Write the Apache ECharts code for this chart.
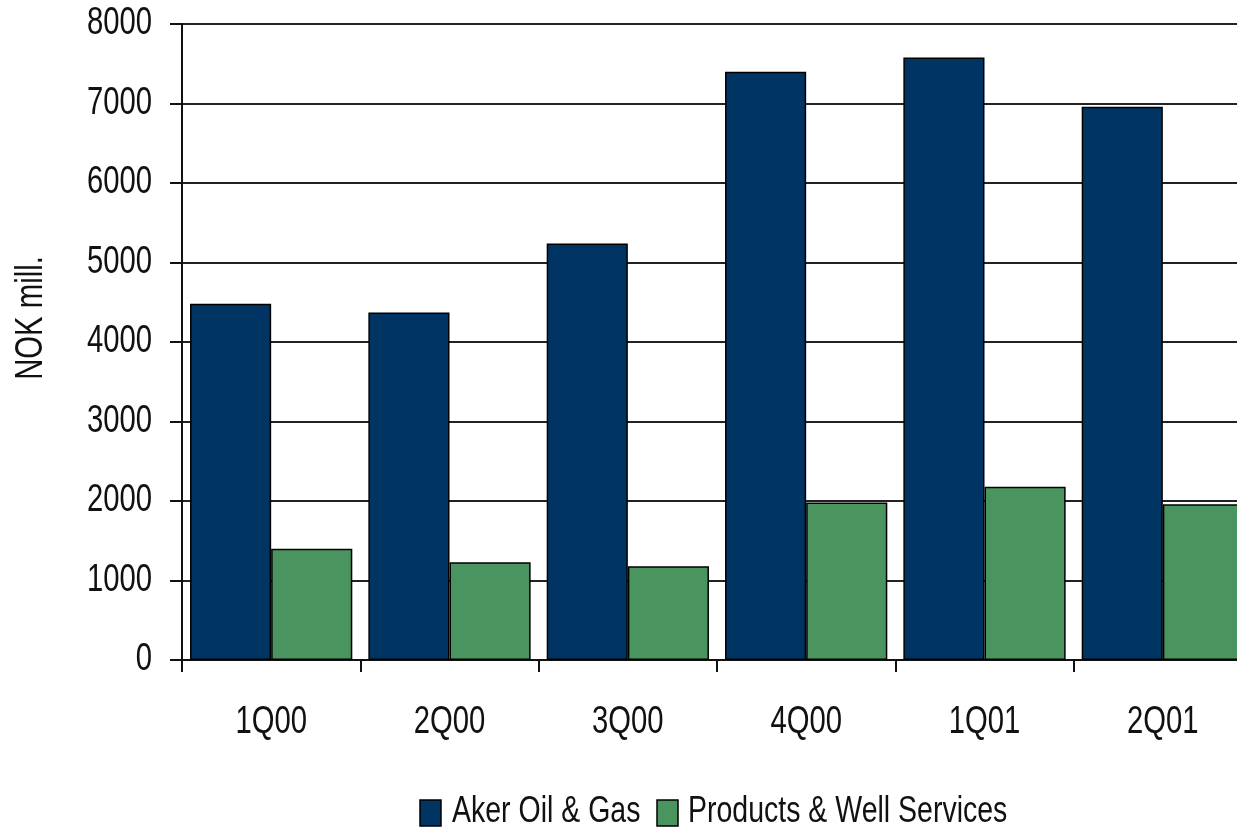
<!DOCTYPE html>
<html>
<head>
<meta charset="utf-8">
<script src="https://cdn.jsdelivr.net/npm/echarts@6/dist/echarts.min.js"></script>
<style>
  html, body { margin: 0; padding: 0; background: #fff; overflow: hidden; }
  #chart { width: 1262px; height: 830px; }
</style>
</head>
<body>
<div id="chart"></div>
<script>
// Quarterly figures, NOK million
const quarters = ['1Q00', '2Q00', '3Q00', '4Q00', '1Q01', '2Q01'];
const akerOilGas = [4480, 4370, 5240, 7400, 7580, 6960];
const productsWell = [1400, 1230, 1180, 1980, 2180, 1960];
const seriesNames = ['Aker Oil & Gas', 'Products & Well Services'];
const yTickLabels = ['0', '1000', '2000', '3000', '4000', '5000', '6000', '7000', '8000'];
const yTitle = 'NOK mill.';

// Narrow sans look: regular sans squeezed horizontally
const FONT = "'Liberation Sans', Arial, sans-serif";
const SQUEEZE = 0.77;
const TEXT = '#111';
const NAVY = '#003463';
const GREEN = '#4A9460';

const chart = echarts.init(document.getElementById('chart'), null, { renderer: 'canvas' });

chart.setOption({
  backgroundColor: '#ffffff',
  animation: false,
  grid: { left: 182, top: 24, width: 1070, height: 636, outerBoundsMode: 'none' },
  xAxis: {
    type: 'category',
    data: quarters,
    axisLine: { lineStyle: { color: '#111', width: 2 } },
    axisTick: { show: true, length: 12, lineStyle: { color: '#111', width: 2 } },
    axisLabel: { show: false }
  },
  yAxis: {
    type: 'value',
    min: Number(yTickLabels[0]),
    max: Number(yTickLabels[yTickLabels.length - 1]),
    interval: Number(yTickLabels[1]) - Number(yTickLabels[0]),
    axisLine: { show: true, lineStyle: { color: '#111', width: 2 } },
    axisTick: { show: true, length: 12, lineStyle: { color: '#111', width: 2 } },
    axisLabel: { show: false },
    splitLine: { show: true, lineStyle: { color: '#222', width: 2 } }
  },
  series: [
    {
      name: seriesNames[0],
      type: 'bar',
      data: akerOilGas,
      barGap: '0%',
      barCategoryGap: '9%',
      itemStyle: { color: NAVY, borderColor: '#000', borderWidth: 1.5 }
    },
    {
      name: seriesNames[1],
      type: 'bar',
      data: productsWell,
      itemStyle: { color: GREEN, borderColor: '#000', borderWidth: 1.5 }
    }
  ]
});

// Condensed text elements placed through the axes' own scales
function label(text, x, y, align, size, extra) {
  return Object.assign({
    type: 'text', x: x, y: y, scaleX: SQUEEZE, silent: true,
    style: { text: text, fontFamily: FONT, fontSize: size, fill: TEXT, align: align, verticalAlign: 'middle' }
  }, extra || {});
}

const graphics = [];
yTickLabels.forEach(function (t) {
  const y = chart.convertToPixel({ yAxisIndex: 0 }, Number(t));
  graphics.push(label(t, 152, y, 'right', 38));
});
quarters.forEach(function (q) {
  const x = chart.convertToPixel({ xAxisIndex: 0 }, q);
  graphics.push(label(q, x, 723, 'center', 38));
});
graphics.push(label(yTitle, 32, 318, 'center', 38, { rotation: Math.PI / 2 }));

// Legend: swatch + name
const legendItems = [
  { x: 420, textX: 452, color: NAVY, name: seriesNames[0] },
  { x: 657, textX: 688, color: GREEN, name: seriesNames[1] }
];
legendItems.forEach(function (it) {
  graphics.push({
    type: 'rect', silent: true,
    shape: { x: it.x, y: 800, width: 21, height: 26 },
    style: { fill: it.color, stroke: '#000', lineWidth: 1.5 }
  });
  graphics.push(label(it.name, it.textX, 812, 'left', 37));
});

chart.setOption({ graphic: graphics });
</script>
</body>
</html>
